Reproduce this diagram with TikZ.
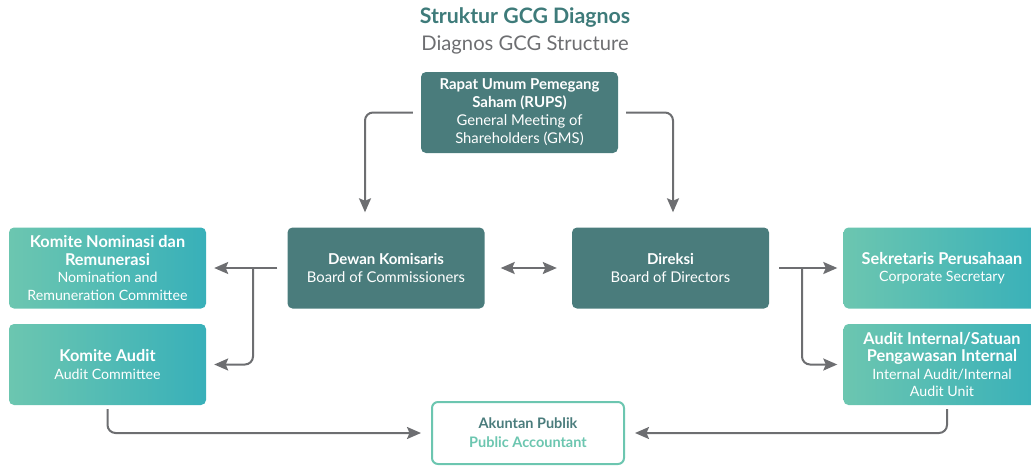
\documentclass[tikz,border=0pt]{standalone}
\usepackage{fontspec}
\setmainfont{Lato}
\usepackage{tikz}
\usetikzlibrary{positioning,calc,arrows.meta}
\usepackage{xcolor}
\definecolor{gcgdark}{RGB}{74,124,124}
\definecolor{gcgmint}{RGB}{108,198,176}
\definecolor{gcgaqua}{RGB}{56,176,185}
\definecolor{gcgtitle}{RGB}{62,123,122}
\definecolor{gcggray}{RGB}{109,110,113}
\newcommand{\darkhead}[1]{{\fontsize{15}{18}\selectfont\bfseries #1}}
\newcommand{\greenhead}[1]{{\fontsize{16.3}{18}\selectfont\bfseries #1}}

\begin{document}
\begin{tikzpicture}[x=1pt,y=-1pt,
    darkbox/.style={fill=gcgdark, rounded corners=5pt, text=white, align=center,
        minimum width=197pt, minimum height=81pt, inner sep=0pt,
        font=\fontsize{14.8}{18}\selectfont},
    greenbox/.style={left color=gcgmint, right color=gcgaqua, rounded corners=5pt,
        text=white, align=center, minimum width=197pt, minimum height=81pt, inner sep=0pt,
        font=\fontsize{14.2}{17.6}\selectfont},
    conn/.style={draw=gcggray, line width=2pt, rounded corners=8pt,
        -{Stealth[length=14pt,width=12pt,inset=2.5pt]}}
]
\useasboundingbox (0,0) rectangle (1031,466);

% Title
\node[font=\fontsize{21.3}{24}\selectfont\bfseries, text=gcgtitle] (title) at (525,18) {Struktur GCG Diagnos};
\node[font=\fontsize{20.2}{24}\selectfont, text=gcggray] (subtitle) at (525,45) {Diagnos GCG Structure};

% Boxes
\node[darkbox] (rups) at (519.5,112.5) {\darkhead{Rapat Umum Pemegang}\\\darkhead{Saham (RUPS)}\\General Meeting of\\Shareholders (GMS)};
\node[darkbox] (dk) at (386,268) {\darkhead{Dewan Komisaris}\\Board of Commissioners};
\node[darkbox] (dr) at (670.5,268) {\darkhead{Direksi}\\Board of Directors};
\node[greenbox] (kn) at (107.5,268) {\greenhead{Komite Nominasi dan}\\\greenhead{Remunerasi}\\Nomination and\\Remuneration Committee};
\node[greenbox] (ka) at (107.5,364.5) {\greenhead{Komite Audit}\\Audit Committee};
\node[greenbox] (sk) at (942,268) {\greenhead{Sekretaris Perusahaan}\\Corporate Secretary};
\node[greenbox] (ai) at (942,364.5) {\greenhead{Audit Internal/Satuan}\\\greenhead{Pengawasan Internal}\\Internal Audit/Internal\\Audit Unit};
\node[draw=gcgmint, line width=2pt, fill=white, rounded corners=6pt, align=center,
    minimum width=192pt, minimum height=62pt, font=\fontsize{14.5}{19}\selectfont\bfseries]
    (ap) at (528,433) {\textcolor{gcgdark}{Akuntan Publik}\\\textcolor{gcgmint}{Public Accountant}};

% Connectors
\coordinate (lsplit) at (253,268);
\coordinate (rsplit) at (802,268);
\draw[conn, shorten <=8pt, shorten >=15pt] (rups.west) -| ([xshift=-21pt]dk.north);
\draw[conn, shorten <=8pt, shorten >=15pt] (rups.east) -| ([xshift=2.5pt]dr.north);
\draw[draw=gcggray, line width=2pt, shorten <=16pt, shorten >=15pt,
    {Stealth[length=14pt,width=12pt,inset=2.5pt]}-{Stealth[length=14pt,width=12pt,inset=2.5pt]}] (dk.east) -- (dr.west);
\draw[conn, shorten <=10pt, shorten >=8pt] (dk.west) -- (kn.east);
\draw[conn, shorten >=8pt] (lsplit) |- (ka.east);
\draw[conn, shorten <=10pt, shorten >=6pt] (dr.east) -- (sk.west);
\draw[conn, shorten >=6pt] (rsplit) |- (ai.west);
\draw[conn, shorten <=4pt, shorten >=10pt] (ka.south) |- (ap.west);
\draw[conn, shorten <=4pt, shorten >=10pt] ([xshift=5pt]ai.south) |- (ap.east);

\end{tikzpicture}
\end{document}
